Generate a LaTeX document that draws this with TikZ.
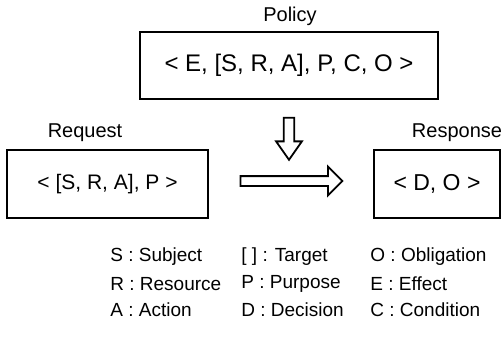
\documentclass[tikz,border=0pt]{standalone}
\usepackage{fontspec}
\setmainfont{Liberation Sans}
\usetikzlibrary{shapes.arrows}

\tikzset{
  tuple/.style={draw, line width=1pt, inner sep=0pt, font=\fontsize{10.5}{12}\selectfont},
  title/.style={font=\fontsize{10}{12}\selectfont},
  legend/.style={anchor=west, inner sep=0pt, font=\fontsize{9.5}{11}\selectfont},
  blockarrow/.style={single arrow, draw, line width=0.9pt, minimum height=#1}
}

\begin{document}
\begin{tikzpicture}[x=0.5pt,y=-0.5pt]

  \useasboundingbox (0,0) rectangle (501,345);

  % boxes
  \node[tuple, minimum width=149pt, minimum height=33.5pt, font=\fontsize{12}{14}\selectfont]
    (policy) at (289,65.5) {< E, [S, R, A], P, C, O >};
  \node[tuple, minimum width=100.5pt, minimum height=34pt] (request) at (107.5,184)
    {< [S, R, A], P >};
  \node[tuple, minimum width=63pt, minimum height=34pt, font=\fontsize{11.5}{14}\selectfont]
    (response) at (437,184) {< D, O >};

  % titles
  \node[title] (policyT) at (290,16) {Policy};
  \node[title] (requestT) at (85,133) {Request};
  \node[title] (responseT) at (457,133) {Response};

  % block arrows
  \node[blockarrow=21pt, shape border rotate=270, inner sep=2.2pt,
    single arrow tip angle=70, single arrow head extend=3.8pt] (down) at (289,135) {};
  \node[blockarrow=51pt, inner sep=2pt,
    single arrow head extend=4.75pt] (right) at (289,181) {};

  % legend
  \foreach \x/\y/\t [count=\i] in {
    110/257/{S : Subject},   241/257/{[ ] : Target},  370/257/{O : Obligation},
    110/284/{R : Resource},  241/284/{P : Purpose},   370/284/{E : Effect},
    110/310/{A : Action},    241/310/{D : Decision},  370/310/{C : Condition}}
  \node[legend] (leg\i) at (\x,\y) {\t};

\end{tikzpicture}
\end{document}
